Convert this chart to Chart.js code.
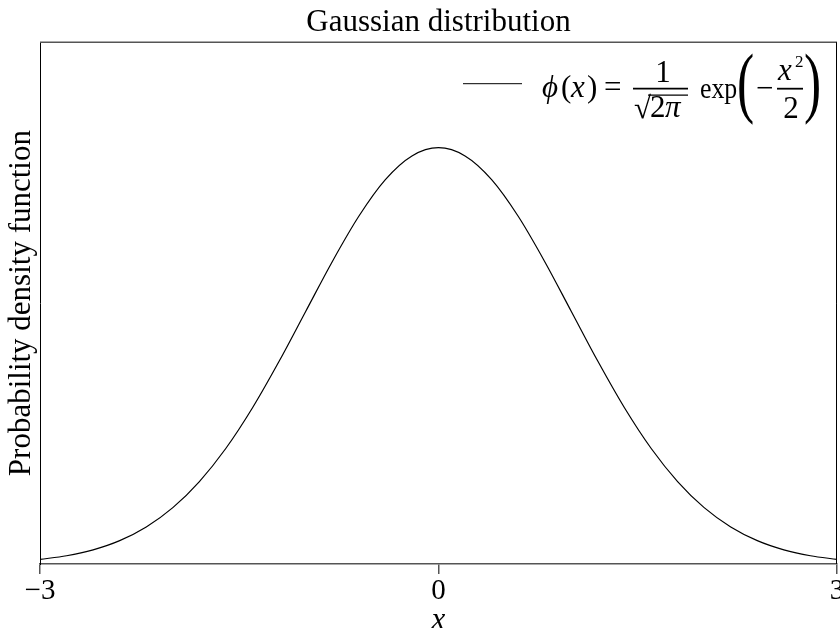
<!DOCTYPE html>
<html>
<head>
<meta charset="utf-8">
<script src="https://cdn.jsdelivr.net/npm/chart.js@4.4.1/dist/chart.umd.min.js"></script>
<style>
  html, body { margin: 0; padding: 0; background: #fff; }
  #wrap { width: 840px; height: 628px; }
</style>
</head>
<body>
<div id="wrap"><canvas id="c" width="840" height="628"></canvas></div>
<script>
// Standard normal density sampled every 0.2 on [-3, 3]
const xValues = [-3.0, -2.8, -2.6, -2.4, -2.2, -2.0, -1.8, -1.6, -1.4, -1.2, -1.0, -0.8, -0.6, -0.4, -0.2,
                  0.0,  0.2,  0.4,  0.6,  0.8,  1.0,  1.2,  1.4,  1.6,  1.8,  2.0,  2.2,  2.4,  2.6,  2.8, 3.0];
const densityValues = [0.0044, 0.0079, 0.0136, 0.0224, 0.0355, 0.0540, 0.0790, 0.1109, 0.1497, 0.1942, 0.2420, 0.2897, 0.3332, 0.3683, 0.3910,
                       0.3989, 0.3910, 0.3683, 0.3332, 0.2897, 0.2420, 0.1942, 0.1497, 0.1109, 0.0790, 0.0540, 0.0355, 0.0224, 0.0136, 0.0079, 0.0044];
const xTickValues = [-3, 0, 3];
const titleText = 'Gaussian distribution';
const xAxisTitle = 'x';
const yAxisTitle = 'Probability density function';

const SERIF = '"Liberation Serif", "DejaVu Serif", serif';

// Top and right frame lines around the plotting area
const framePlugin = {
  id: 'frame',
  afterDraw(chart) {
    const { ctx, chartArea: a } = chart;
    ctx.save();
    ctx.strokeStyle = '#555';
    ctx.lineWidth = 1.5;
    ctx.beginPath();
    ctx.moveTo(a.left, a.top);
    ctx.lineTo(a.right, a.top);
    ctx.stroke();
    ctx.strokeStyle = '#000';
    ctx.lineWidth = 1;
    ctx.beginPath();
    ctx.moveTo(a.right - 0.5, a.top);
    ctx.lineTo(a.right - 0.5, a.bottom);
    ctx.stroke();
    ctx.restore();
  }
};

// Legend entry: line sample followed by the density formula
const formulaLegend = {
  id: 'formulaLegend',
  afterDraw(chart) {
    const { ctx, chartArea: a } = chart;
    const X = (dx) => a.right + dx;   // offsets from the plot's top-right corner
    const Y = (dy) => a.top + dy;
    const reg = (s) => `${s}px ${SERIF}`;
    const ital = (s) => `italic ${s}px ${SERIF}`;
    const txt = (t, f, x, y, align) => {
      ctx.font = f; ctx.textAlign = align || 'left'; ctx.fillText(t, x, y);
    };
    const hline = (x1, x2, y, w) => {
      ctx.lineWidth = w; ctx.beginPath(); ctx.moveTo(x1, y); ctx.lineTo(x2, y); ctx.stroke();
    };
    // text squeezed horizontally by factor sx
    const narrow = (t, f, x, y, sx) => {
      ctx.save();
      ctx.translate(x, y);
      ctx.scale(sx, 1);
      ctx.font = f;
      ctx.textAlign = 'left';
      ctx.fillText(t, 0, 0);
      ctx.restore();
    };
    ctx.save();
    ctx.fillStyle = '#000';
    ctx.strokeStyle = '#000';
    ctx.textBaseline = 'alphabetic';

    // line sample
    hline(X(-374), X(-315), Y(41.5), 1);

    // phi(x) =
    txt('\u03D5', ital(31), X(-295), Y(55));
    txt('(', reg(31), X(-276), Y(55));
    txt('x', ital(31), X(-266), Y(55));
    txt(')', reg(31), X(-250), Y(55));
    txt('=', reg(31), X(-233), Y(55));

    // 1 / sqrt(2 pi)
    hline(X(-204), X(-149), Y(46.5), 1.8);
    txt('1', reg(31), X(-174), Y(40), 'center');
    txt('\u221A', reg(31), X(-203), Y(76));
    txt('2', reg(31), X(-187), Y(75));
    txt('\u03C0', ital(31), X(-172), Y(75));
    hline(X(-189), X(-149), Y(53), 1.2);

    // exp( -x^2 / 2 )
    narrow('exp', reg(30), X(-137), Y(56), 0.86);
    narrow('(', reg(78), X(-100), Y(66), 0.66);
    txt('\u2212', reg(31), X(-81), Y(56));
    hline(X(-60), X(-34), Y(46.5), 1.8);
    txt('x', ital(31), X(-59), Y(38));
    txt('2', reg(17), X(-42), Y(25));
    txt('2', reg(31), X(-46), Y(76), 'center');
    narrow(')', reg(78), X(-33), Y(66), 0.66);
    ctx.restore();
  }
};

const points = xValues.map((v, i) => ({ x: v, y: densityValues[i] }));

new Chart(document.getElementById('c'), {
  type: 'line',
  data: {
    datasets: [{
      label: 'phi',
      data: points,
      borderColor: '#000',
      borderWidth: 1.2,
      pointRadius: 0,
      cubicInterpolationMode: 'monotone',
      fill: false
    }]
  },
  options: {
    responsive: false,
    animation: false,
    events: [],
    layout: { autoPadding: false, padding: { top: 0, right: 3, bottom: 0, left: 0 } },
    plugins: {
      legend: { display: false },
      tooltip: { enabled: false },
      title: {
        display: true,
        fullSize: false,
        text: titleText,
        color: '#000',
        font: { family: SERIF, size: 31, weight: 'normal' },
        padding: { top: 4, bottom: 1 }
      }
    },
    scales: {
      x: {
        type: 'linear',
        min: -3,
        max: 3,
        afterBuildTicks(scale) { scale.ticks = xTickValues.map(v => ({ value: v })); },
        afterFit(scale) { scale.height = 64; scale.paddingLeft = 0; scale.paddingRight = 0; },
        ticks: {
          color: '#000',
          font: { family: SERIF, size: 29 },
          padding: 0,
          maxRotation: 0,
          callback: (v) => (v < 0 ? '\u2212' + Math.abs(v) : String(v))
        },
        grid: { display: true, drawOnChartArea: false, drawTicks: true, tickLength: 10, color: '#555', lineWidth: 1.5 },
        border: { display: true, color: '#555', width: 1.5 },
        title: {
          display: true,
          text: xAxisTitle,
          color: '#000',
          font: { family: SERIF, size: 31, style: 'italic' },
          padding: { top: 0, bottom: -11 }
        }
      },
      y: {
        min: 0,
        max: 0.5,
        afterFit(scale) { scale.width = 40; scale.paddingTop = 0; scale.paddingBottom = 0; },
        ticks: { display: false },
        grid: { display: false },
        border: { display: true, color: '#000', width: 1 },
        title: {
          display: true,
          text: yAxisTitle,
          color: '#000',
          font: { family: SERIF, size: 31 },
          padding: { top: 3, bottom: 0 }
        }
      }
    }
  },
  plugins: [framePlugin, formulaLegend]
});
</script>
</body>
</html>
